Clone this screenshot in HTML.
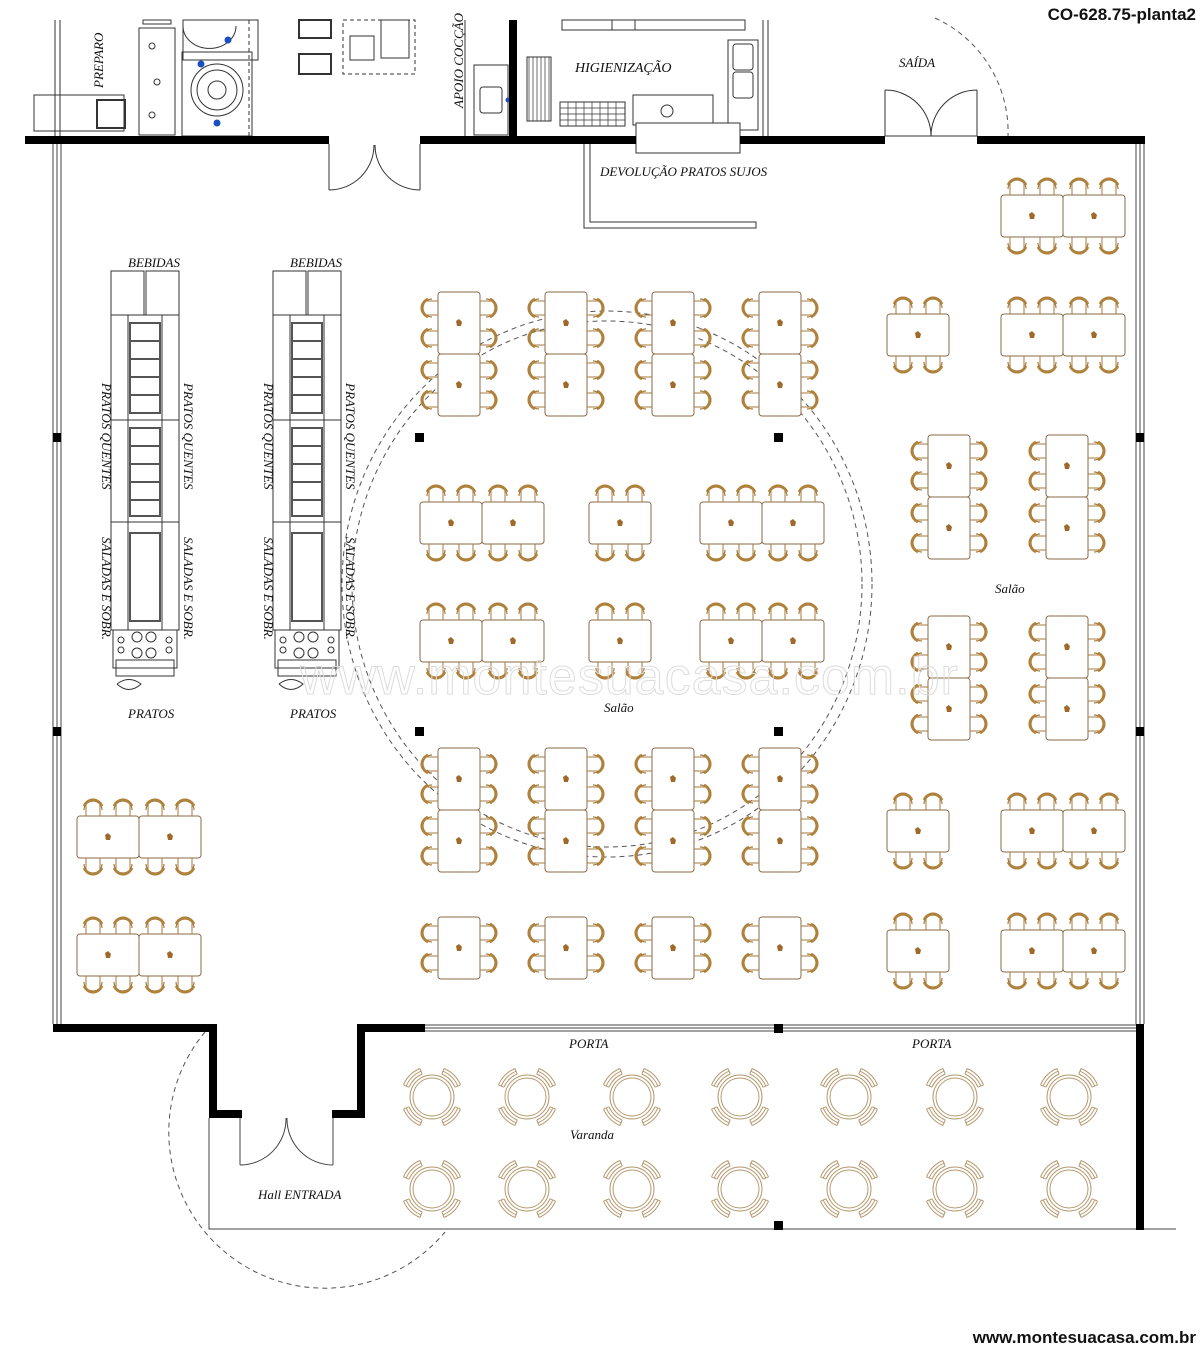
<!DOCTYPE html>
<html><head><meta charset="utf-8"><style>
html,body{margin:0;padding:0;background:#fff;}
svg{display:block;}
.t{font-family:"Liberation Serif",serif;font-style:italic;fill:#111;}
</style></head><body>
<svg width="1200" height="1349" viewBox="0 0 1200 1349" xmlns="http://www.w3.org/2000/svg">
<defs>
  <g id="chL" fill="none" stroke="#a57a3a">
    <path d="M0,-7 H-11 A6,7 0 0 0 -11,7 H0" stroke-width="1"/>
    <path d="M-6,-9 A9,9 0 0 0 -6,9" stroke-width="1.2"/>
    <path d="M-10,-9 A11,10 0 0 0 -10,9" stroke-width="2.6" stroke="#b0813a"/>
  </g>
  <g id="orn"><path d="M-3,-2 L0,-4 L3,-1 L2,3 L-2,3 Z" fill="#a0692a"/></g>
  <g id="tv">
    <rect x="0" y="0" width="42" height="62" rx="3" fill="#fff" stroke="#8a6a45" stroke-width="1"/>
    <use href="#chL" transform="translate(0,16)"/>
    <use href="#chL" transform="translate(0,46)"/>
    <use href="#chL" transform="translate(42,16) rotate(180)"/>
    <use href="#chL" transform="translate(42,46) rotate(180)"/>
    <use href="#orn" transform="translate(21,31)"/>
  </g>
  <g id="th">
    <rect x="0" y="0" width="62" height="42" rx="3" fill="#fff" stroke="#8a6a45" stroke-width="1"/>
    <use href="#chL" transform="translate(16,0) rotate(90)"/>
    <use href="#chL" transform="translate(46,0) rotate(90)"/>
    <use href="#chL" transform="translate(16,42) rotate(-90)"/>
    <use href="#chL" transform="translate(46,42) rotate(-90)"/>
    <use href="#orn" transform="translate(31,21)"/>
  </g>
  <g id="rc" fill="none" stroke="#b59a70" stroke-width="1">
    <circle r="22"/><circle r="19"/>
    <g id="rch">
      <path d="M-9.8,-23 A25,25 0 0 0 -23,-9.8"/>
      <path d="M-10.9,-25.8 A28,28 0 0 0 -25.8,-10.9"/>
      <path d="M-12.1,-28.5 A31,31 0 0 0 -28.5,-12.1"/>
      <path d="M-9.8,-23 L-12.1,-28.5 M-23,-9.8 L-28.5,-12.1"/>
    </g>
    <use href="#rch" transform="rotate(90)"/>
    <use href="#rch" transform="rotate(180)"/>
    <use href="#rch" transform="rotate(270)"/>
  </g>
  <g id="buf" fill="none" stroke="#333" stroke-width="1">
    <rect x="0" y="0" width="33" height="44"/><rect x="35" y="0" width="33" height="44"/>
    <rect x="0" y="44" width="68" height="315"/>
    <line x1="17" y1="44" x2="17" y2="359"/><line x1="51" y1="44" x2="51" y2="359"/>
    <line x1="0" y1="149" x2="68" y2="149"/><line x1="0" y1="251" x2="68" y2="251"/>
    <rect x="19" y="52" width="30" height="90" stroke-width="2" stroke="#555"/>
    <path d="M19,70H49M19,88H49M19,106H49M19,124H49" stroke-width="2" stroke="#555"/>
    <rect x="19" y="157" width="30" height="88" stroke-width="2" stroke="#555"/>
    <path d="M19,175H49M19,193H49M19,211H49M19,229H49" stroke-width="2" stroke="#555"/>
    <rect x="19" y="262" width="30" height="88" stroke-width="2" stroke="#555"/>
    <rect x="2" y="359" width="64" height="38"/>
    <circle cx="26" cy="366" r="5"/><circle cx="40" cy="366" r="5"/><circle cx="26" cy="382" r="5"/><circle cx="40" cy="382" r="5"/>
    <circle cx="10" cy="369" r="3"/><circle cx="10" cy="379" r="3"/><circle cx="58" cy="369" r="3"/><circle cx="58" cy="379" r="3"/>
    <rect x="5" y="389" width="58" height="16"/>
    <path d="M6,413 Q18,404 30,413 Q18,424 6,413"/>
  </g>
</defs>

<text x="1196" y="20" text-anchor="end" font-family="Liberation Sans,sans-serif" font-weight="bold" font-size="17" fill="#111">CO-628.75-planta2</text>
<text x="1196" y="1343" text-anchor="end" font-family="Liberation Sans,sans-serif" font-weight="bold" font-size="17" fill="#111">www.montesuacasa.com.br</text>

<g fill="none" stroke="#333" stroke-width="1">
  <line x1="55" y1="20" x2="55" y2="136"/><line x1="60" y1="20" x2="60" y2="136"/>
  <rect x="34" y="95" width="90" height="36"/>
  <rect x="97" y="100" width="28" height="28" stroke-width="2"/>
  <rect x="139" y="28" width="36" height="107"/><rect x="143" y="20" width="28" height="4"/>
  <circle cx="152" cy="46" r="3"/><circle cx="157" cy="82" r="3"/><circle cx="152" cy="115" r="3"/>
  <rect x="182" y="52" width="70" height="84"/>
  <circle cx="217" cy="90" r="26"/><circle cx="217" cy="90" r="20"/><circle cx="217" cy="90" r="9"/>
  <rect x="183" y="20" width="75" height="40"/>
  <path d="M183,26 A26,22 0 0 0 236,26"/>
  <line x1="249" y1="20" x2="249" y2="136" stroke-dasharray="4 3"/>
  <rect x="299" y="20" width="32" height="18" stroke-width="2"/><rect x="299" y="54" width="32" height="20" stroke-width="2"/>
  <rect x="343" y="20" width="72" height="54" stroke-dasharray="4 3"/>
  <rect x="350" y="36" width="24" height="24"/><rect x="381" y="20" width="28" height="38"/>
  <rect x="474" y="65" width="34" height="70"/><rect x="480" y="87" width="22" height="26" rx="3"/>
  <line x1="465" y1="20" x2="465" y2="136"/>
  <rect x="527" y="57" width="24" height="64"/>
  <path d="M529,57V121M533,57V121M537,57V121M541,57V121M545,57V121M549,57V121" stroke-width="0.7"/>
  <rect x="560" y="102" width="65" height="24"/>
  <path d="M560,108H625M560,114H625M560,120H625M568,102V126M576,102V126M584,102V126M592,102V126M600,102V126M608,102V126M616,102V126" stroke-width="0.7"/>
  <rect x="562" y="20" width="183" height="10"/><line x1="612" y1="20" x2="612" y2="30"/><line x1="635" y1="20" x2="635" y2="30"/>
  <rect x="633" y="95" width="80" height="30"/><circle cx="667" cy="111" r="6"/>
  <rect x="728" y="40" width="30" height="90"/>
  <rect x="733" y="44" width="20" height="26" rx="3"/><rect x="733" y="72" width="20" height="26" rx="3"/>
  <line x1="763" y1="20" x2="763" y2="136"/><line x1="768" y1="20" x2="768" y2="136"/>
  <rect x="636" y="123" width="104" height="30" fill="#fff"/>
  <polyline points="584,144 584,228 756,228 756,222 590,222 590,144"/>
  <line x1="885" y1="90" x2="885" y2="136"/><line x1="977" y1="90" x2="977" y2="136"/>
  <path d="M885,90 A46,46 0 0 1 931,136"/><path d="M977,90 A46,46 0 0 0 931,136"/>
  <line x1="885" y1="136" x2="977" y2="136"/>
  <path d="M935,18 A125,125 0 0 1 1008,136" stroke-dasharray="5 4" stroke="#555"/>
  <line x1="329" y1="144" x2="329" y2="190"/><line x1="420" y1="144" x2="420" y2="190"/>
  <path d="M329,190 A45,45 0 0 0 374,145"/><path d="M420,190 A45,45 0 0 1 375,145"/>
</g>
<g fill="#1a4fc0"><circle cx="228" cy="40" r="3.5"/><circle cx="201" cy="64" r="3.5"/><circle cx="217" cy="123" r="3.5"/><circle cx="508" cy="100" r="2.5"/></g>
<text class="t" font-size="13" transform="translate(103,88) rotate(-90)">PREPARO</text>
<text class="t" font-size="13" transform="translate(463,108) rotate(-90)">APOIO COCÇÃO</text>
<text class="t" x="575" y="72" font-size="14">HIGIENIZAÇÃO</text>
<text class="t" x="899" y="67" font-size="13">SAÍDA</text>
<text class="t" x="600" y="176" font-size="13">DEVOLUÇÃO PRATOS SUJOS</text>

<g fill="#000">
  <rect x="25" y="136" width="304" height="8"/>
  <rect x="420" y="136" width="216" height="8"/>
  <rect x="740" y="136" width="145" height="8"/>
  <rect x="977" y="136" width="168" height="8"/>
  <rect x="509" y="20" width="8" height="116"/>
  <rect x="53" y="1024" width="164" height="8"/>
  <rect x="209" y="1024" width="8" height="94"/>
  <rect x="209" y="1110" width="33" height="8"/>
  <rect x="332" y="1110" width="33" height="8"/>
  <rect x="357" y="1024" width="8" height="94"/>
  <rect x="357" y="1024" width="68" height="8"/>
  <rect x="1136" y="1024" width="8" height="206"/>
</g>
<g fill="none" stroke="#444" stroke-width="1">
  <path d="M53,144V1024M57,144V1024M61,144V1024"/>
  <path d="M1136,144V1024M1140,144V1024M1144,144V1024"/>
  <path d="M425,1025H1136M425,1028H1136M425,1031H1136"/>
  <path d="M209,1118V1229H1136M1144,1229H1176"/>
  <line x1="240" y1="1118" x2="240" y2="1165"/><line x1="333" y1="1118" x2="333" y2="1165"/>
  <path d="M240,1165 A46,46 0 0 0 286,1118"/><path d="M333,1165 A46,46 0 0 1 287,1118"/>
  <path d="M205,1032 A150,150 0 1 0 445,1232" stroke-dasharray="5 4" stroke="#555"/>
  <ellipse cx="607" cy="584" rx="255" ry="263" stroke-dasharray="5 4" stroke="#555"/>
  <ellipse cx="607" cy="584" rx="265" ry="273" stroke-dasharray="5 4" stroke="#555"/>
</g>
<g fill="#000">
  <rect x="415" y="433" width="9" height="9"/><rect x="774" y="433" width="9" height="9"/>
  <rect x="415" y="727" width="9" height="9"/><rect x="774" y="727" width="9" height="9"/>
  <rect x="53" y="433" width="8" height="9"/><rect x="53" y="727" width="8" height="9"/>
  <rect x="1136" y="433" width="8" height="9"/><rect x="1136" y="727" width="8" height="9"/>
  <rect x="774" y="1024" width="9" height="9"/><rect x="774" y="1221" width="9" height="9"/>
</g>

<use href="#buf" transform="translate(111,271)"/>
<use href="#buf" transform="translate(273,271)"/>
<g class="t" font-size="13">
  <text x="128" y="267">BEBIDAS</text><text x="290" y="267">BEBIDAS</text>
  <text x="128" y="718">PRATOS</text><text x="290" y="718">PRATOS</text>
</g>
<g class="t" font-size="13">
  <text transform="translate(102,383) rotate(90)">PRATOS QUENTES</text>
  <text transform="translate(184,383) rotate(90)">PRATOS QUENTES</text>
  <text transform="translate(264,383) rotate(90)">PRATOS QUENTES</text>
  <text transform="translate(346,383) rotate(90)">PRATOS QUENTES</text>
  <text transform="translate(102,537) rotate(90)">SALADAS E SOBR.</text>
  <text transform="translate(184,537) rotate(90)">SALADAS E SOBR.</text>
  <text transform="translate(264,537) rotate(90)">SALADAS E SOBR.</text>
  <text transform="translate(346,537) rotate(90)">SALADAS E SOBR.</text>
</g>

<use href="#tv" x="438" y="292"/><use href="#tv" x="438" y="354"/>
<use href="#tv" x="545" y="292"/><use href="#tv" x="545" y="354"/>
<use href="#tv" x="652" y="292"/><use href="#tv" x="652" y="354"/>
<use href="#tv" x="759" y="292"/><use href="#tv" x="759" y="354"/>
<use href="#tv" x="438" y="748"/><use href="#tv" x="438" y="810"/>
<use href="#tv" x="545" y="748"/><use href="#tv" x="545" y="810"/>
<use href="#tv" x="652" y="748"/><use href="#tv" x="652" y="810"/>
<use href="#tv" x="759" y="748"/><use href="#tv" x="759" y="810"/>
<use href="#tv" x="438" y="917"/><use href="#tv" x="545" y="917"/>
<use href="#tv" x="652" y="917"/><use href="#tv" x="759" y="917"/>
<use href="#th" x="420" y="502"/><use href="#th" x="482" y="502"/><use href="#th" x="589" y="502"/><use href="#th" x="700" y="502"/><use href="#th" x="762" y="502"/>
<use href="#th" x="420" y="620"/><use href="#th" x="482" y="620"/><use href="#th" x="589" y="620"/><use href="#th" x="700" y="620"/><use href="#th" x="762" y="620"/>
<use href="#th" x="1001" y="195"/><use href="#th" x="1063" y="195"/>
<use href="#th" x="887" y="314"/><use href="#th" x="1001" y="314"/><use href="#th" x="1063" y="314"/>
<use href="#tv" x="928" y="435"/><use href="#tv" x="928" y="497"/>
<use href="#tv" x="1046" y="435"/><use href="#tv" x="1046" y="497"/>
<use href="#tv" x="928" y="616"/><use href="#tv" x="928" y="678"/>
<use href="#tv" x="1046" y="616"/><use href="#tv" x="1046" y="678"/>
<use href="#th" x="887" y="810"/><use href="#th" x="1001" y="810"/><use href="#th" x="1063" y="810"/>
<use href="#th" x="887" y="930"/><use href="#th" x="1001" y="930"/><use href="#th" x="1063" y="930"/>
<use href="#th" x="77" y="816"/><use href="#th" x="139" y="816"/>
<use href="#th" x="77" y="934"/><use href="#th" x="139" y="934"/>
<g>
  <use href="#rc" transform="translate(432,1097)"/><use href="#rc" transform="translate(527,1097)"/><use href="#rc" transform="translate(632,1097)"/><use href="#rc" transform="translate(740,1097)"/><use href="#rc" transform="translate(849,1097)"/><use href="#rc" transform="translate(955,1097)"/><use href="#rc" transform="translate(1069,1097)"/>
  <use href="#rc" transform="translate(432,1189)"/><use href="#rc" transform="translate(527,1189)"/><use href="#rc" transform="translate(632,1189)"/><use href="#rc" transform="translate(740,1189)"/><use href="#rc" transform="translate(849,1189)"/><use href="#rc" transform="translate(955,1189)"/><use href="#rc" transform="translate(1069,1189)"/>
</g>

<g class="t" font-size="13">
  <text x="604" y="712">Salão</text>
  <text x="995" y="593">Salão</text>
  <text x="570" y="1139">Varanda</text>
  <text x="569" y="1048">PORTA</text>
  <text x="912" y="1048">PORTA</text>
  <text x="258" y="1199">Hall ENTRADA</text>
</g>
<text x="300" y="694" font-family="Liberation Sans,sans-serif" font-size="52" fill="none" stroke="#dcdcdc" stroke-width="1" letter-spacing="1">www.montesuacasa.com.br</text>
</svg>
</body></html>
